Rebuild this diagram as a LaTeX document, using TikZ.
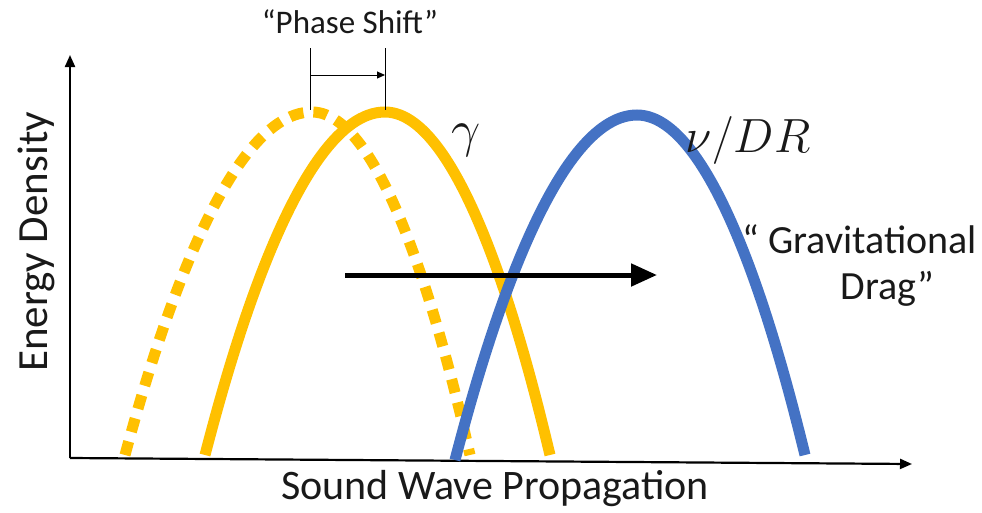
\documentclass[tikz,border=0pt]{standalone}
\usepackage{fix-cm}
\usepackage{fontspec}
\setmainfont{Carlito}
\usetikzlibrary{arrows.meta}
\definecolor{gold}{HTML}{FFC000}
\definecolor{wblue}{HTML}{4472C4}
\tikzset{
  wave/.style={line width=11pt},
  axisline/.style={line width=2.2pt, -{Triangle[length=12pt,width=10pt]}},
  lbl/.style={inner sep=0pt, text=black!90},
}
\begin{document}
\begin{tikzpicture}[x=1pt,y=-1pt]
\useasboundingbox (0,0) rectangle (982,512);
% axes
\coordinate (o) at (70,458);
\coordinate (ytop) at (70,55);
\coordinate (xend) at (912,464);
\draw[axisline] (o) -- (ytop);
\draw[axisline] (o) -- (xend);
% waves
\draw[wave, gold, dash pattern=on 14pt off 10pt] (125,455) parabola bend (312,112) (470,455);
\draw[wave, gold] (205,455) parabola bend (385,112) (550,455);
\draw[wave, wblue] (455,460) parabola bend (637,115) (805,455);
% drag arrow
\coordinate (da) at (345,275);
\coordinate (db) at (657,275);
\draw[line width=5pt, -{Triangle[length=26pt,width=22pt]}] (da) -- (db);
% phase shift marker
\coordinate (p1t) at (310,48);
\coordinate (p1b) at (310,110);
\coordinate (p2t) at (385,48);
\coordinate (p2b) at (385,110);
\draw[line width=1pt] (p1t) -- (p1b);
\draw[line width=1pt] (p2t) -- (p2b);
\coordinate (pa) at (310,75);
\coordinate (pb) at (385,75);
\draw[line width=1pt, -{Triangle[length=8pt,width=7pt]}] (pa) -- (pb);
% labels
\node[lbl, font=\fontsize{33}{38}\selectfont] (ps) at (350,22) {“Phase Shift”};
\node[lbl, font=\fontsize{52}{56}\selectfont] (g) at (466,140) {$\gamma$};
\node[lbl, font=\fontsize{48}{54}\selectfont] (nu) at (748,140) {$\nu/DR$};
\node[lbl, font=\fontsize{40}{46}\selectfont, align=center, anchor=north east] (gd) at (977,224) {“ Gravitational\\ \hspace*{1.4em}Drag”};
\node[lbl, font=\fontsize{43}{48}\selectfont, rotate=90] (yl) at (36,242) {Energy Density};
\node[lbl, font=\fontsize{42}{48}\selectfont] (xl) at (495,489) {Sound Wave Propagation};
\end{tikzpicture}
\end{document}
